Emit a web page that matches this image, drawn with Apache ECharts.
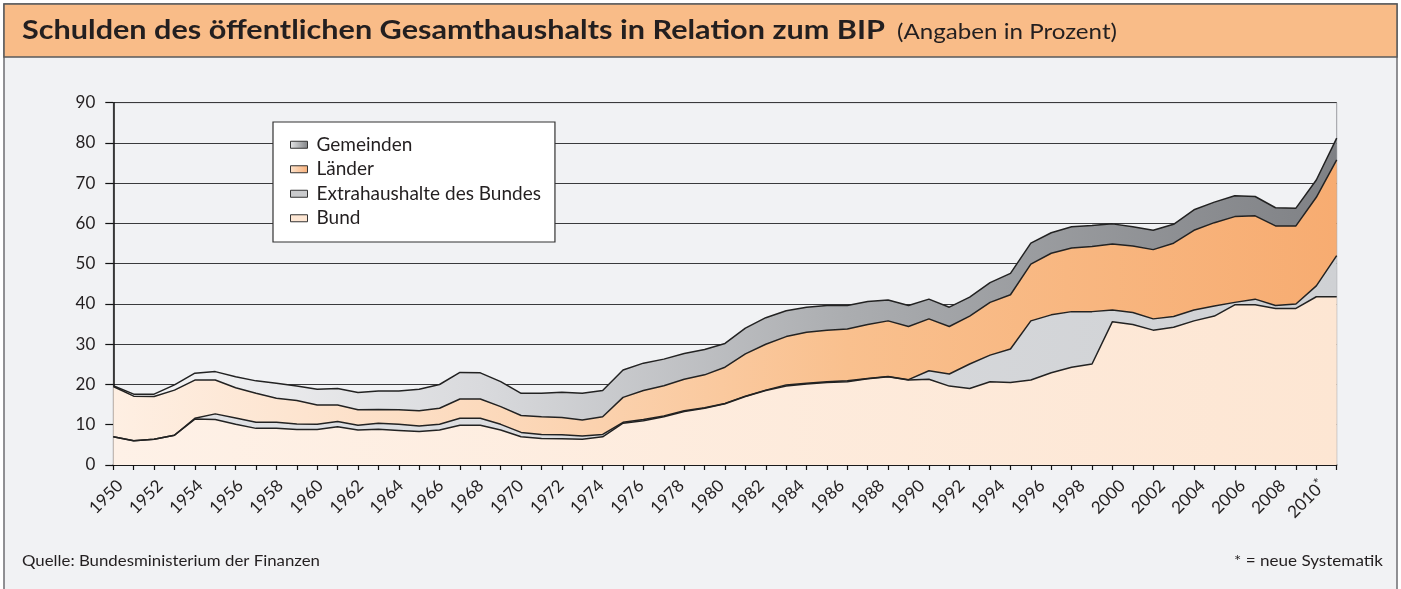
<!DOCTYPE html>
<html>
<head>
<meta charset="utf-8">
<title>Schulden des öffentlichen Gesamthaushalts in Relation zum BIP</title>
<script src="https://cdn.jsdelivr.net/npm/echarts@6/dist/echarts.min.js"></script>
<style>
  html, body { margin: 0; padding: 0; background: #fff; }
  #chart { width: 1401px; height: 589px; }
</style>
</head>
<body>
<div id="chart"></div>
<script>
// Jahre (Kategorien)
var years = ['1950','1951','1952','1953','1954','1955','1956','1957','1958','1959',
  '1960','1961','1962','1963','1964','1965','1966','1967','1968','1969',
  '1970','1971','1972','1973','1974','1975','1976','1977','1978','1979',
  '1980','1981','1982','1983','1984','1985','1986','1987','1988','1989',
  '1990','1991','1992','1993','1994','1995','1996','1997','1998','1999',
  '2000','2001','2002','2003','2004','2005','2006','2007','2008','2009','2010'];

// Beschriftung der x-Achse (jedes zweite Jahr)
var yearLabels = ['1950','1952','1954','1956','1958','1960','1962','1964','1966','1968',
  '1970','1972','1974','1976','1978','1980','1982','1984','1986','1988',
  '1990','1992','1994','1996','1998','2000','2002','2004','2006','2008','2010*'];

// Anteile in % des BIP
var bund = [7.0, 6.0, 6.4, 7.4, 11.4, 11.3, 10.1, 9.1, 9.1, 8.8,
  8.8, 9.5, 8.7, 8.9, 8.6, 8.3, 8.7, 9.9, 9.9, 8.7,
  7.0, 6.6, 6.5, 6.4, 7.0, 10.4, 11.0, 12.0, 13.3, 14.1,
  15.2, 17.0, 18.5, 19.6, 20.1, 20.5, 20.7, 21.4, 21.9, 21.1,
  21.3, 19.6, 19.0, 20.7, 20.5, 21.1, 22.9, 24.3, 25.1, 35.6,
  34.9, 33.5, 34.2, 35.8, 37.0, 39.8, 39.8, 38.9, 38.9, 41.8, 41.8];

var extra = [0, 0, 0, 0, 0.2, 1.4, 1.6, 1.5, 1.5, 1.4,
  1.3, 1.3, 1.2, 1.5, 1.5, 1.4, 1.4, 1.7, 1.7, 1.4,
  1.1, 1.0, 1.0, 0.8, 0.6, 0.2, 0.3, 0.2, 0.2, 0.1,
  0.1, 0.1, 0.1, 0.3, 0.2, 0.2, 0.2, 0.1, 0.1, 0.1,
  2.1, 3.0, 6.1, 6.6, 8.3, 14.7, 14.4, 13.8, 13.0, 2.9,
  3.0, 2.8, 2.7, 2.7, 2.5, 0.6, 1.4, 0.7, 1.1, 2.7, 10.2];

var laender = [12.5, 11.1, 10.6, 11.2, 9.5, 8.4, 7.5, 7.2, 6.0, 5.8,
  4.8, 4.1, 3.8, 3.4, 3.6, 3.8, 4.0, 4.8, 4.8, 4.4,
  4.2, 4.4, 4.3, 4.0, 4.4, 6.2, 7.2, 7.5, 7.8, 8.2,
  9.0, 10.5, 11.4, 12.0, 12.7, 12.8, 12.9, 13.4, 13.8, 13.2,
  12.9, 11.8, 11.9, 13.1, 13.5, 14.1, 15.3, 15.8, 16.2, 16.4,
  16.5, 17.2, 18.2, 19.8, 20.7, 21.3, 20.7, 19.8, 19.4, 22.0, 23.8];

var gemeinden = [0.2, 0.5, 0.6, 1.3, 1.7, 2.1, 2.7, 3.1, 3.7, 3.6,
  3.9, 4.1, 4.3, 4.6, 4.7, 5.3, 5.9, 6.6, 6.5, 6.2,
  5.5, 5.8, 6.3, 6.6, 6.5, 6.8, 6.8, 6.6, 6.4, 6.3,
  5.9, 6.4, 6.6, 6.4, 6.2, 6.1, 5.8, 5.7, 5.2, 5.2,
  4.9, 4.8, 4.7, 4.9, 5.3, 5.2, 5.1, 5.3, 5.2, 5.0,
  4.8, 4.8, 4.7, 5.1, 5.1, 5.2, 4.8, 4.5, 4.4, 4.3, 5.4];

var FONT = 'Lato, "Open Sans", sans-serif';

// horizontale Streckung, damit die Schrift die Breite des Originals erreicht
var measureCtx = document.createElement('canvas').getContext('2d');
function fitScale(text, weight, size, target) {
  measureCtx.font = weight + ' ' + size + 'px ' + FONT;
  return target / measureCtx.measureText(text).width;
}

function hGrad(stops) {
  return new echarts.graphic.LinearGradient(0, 0, 1, 0, stops.map(function (s) {
    return { offset: s[0], color: s[1] };
  }));
}

var colBund = hGrad([[0, '#FEF1E7'], [1, '#FDE6D3']]);
var colExtra = hGrad([[0, '#E2E3E6'], [1, '#CFD1D4']]);
var colLaender = hGrad([[0, '#FEEFE3'], [0.3, '#FCDABD'], [0.6, '#F9C08E'], [1, '#F7AC71']]);
var colGemeinden = hGrad([[0, '#F7F7F8'], [0.3, '#D9DADD'], [0.6, '#ABADB0'], [1, '#7F8185']]);

function areaSeries(name, data, color) {
  return {
    name: name,
    type: 'line',
    stack: 'gesamt',
    data: data,
    symbol: 'none',
    lineStyle: { color: '#222', width: 1.5 },
    itemStyle: { color: color },
    areaStyle: { color: color, opacity: 1 },
    emphasis: { disabled: true }
  };
}

function label(text, x, y, size, weight, width, align) {
  var s = fitScale(text, weight, size, width);
  return {
    type: 'text', z: 10, silent: true, x: x, y: y, scaleX: s, scaleY: 1,
    style: { text: text, fontFamily: FONT, fontSize: size, fontWeight: weight,
      fill: '#231f20', align: align || 'left', verticalAlign: 'middle' }
  };
}

var titleMain = 'Schulden des öffentlichen Gesamthaushalts in Relation zum BIP';
var titleSub = '(Angaben in Prozent)';
var source = 'Quelle: Bundesministerium der Finanzen';
var note = '* = neue Systematik';

var chart = echarts.init(document.getElementById('chart'));

var option = {
  backgroundColor: '#fff',
  animation: false,
  graphic: [
    { type: 'rect', z: -10, silent: true,
      shape: { x: 4, y: 4, width: 1393, height: 600 },
      style: { fill: '#F1F2F4', stroke: '#6d6e71', lineWidth: 1.5 } },
    { type: 'rect', z: -9, silent: true,
      shape: { x: 4, y: 4, width: 1393, height: 53 },
      style: { fill: '#F9BC88', stroke: '#58595b', lineWidth: 1.5 } },
    label(titleMain, 22, 30, 27, 'bold', 863),
    label(titleSub, 897, 32, 21, 'normal', 220),
    label(source, 22, 561, 15, 'normal', 298),
    label(note, 1383, 561, 15, 'normal', 149, 'right')
  ],
  legend: {
    orient: 'vertical',
    left: 273,
    top: 122,
    backgroundColor: '#fff',
    borderColor: '#333',
    borderWidth: 1.2,
    padding: [12, 14, 13, 17],
    itemWidth: 17,
    itemHeight: 7,
    itemGap: 3,
    icon: 'rect',
    itemStyle: { borderColor: '#333', borderWidth: 1 },
    textStyle: { fontFamily: FONT, fontSize: 19, color: '#231f20', lineHeight: 21.5, padding: [0, 0, 0, 4] },
    data: [
      { name: 'Gemeinden', itemStyle: { color: hGrad([[0, '#E6E7E8'], [1, '#808285']]) } },
      { name: 'Länder', itemStyle: { color: hGrad([[0, '#FDE3CC'], [1, '#F8B07A']]) } },
      { name: 'Extrahaushalte des Bundes', itemStyle: { color: '#C9CACC' } },
      { name: 'Bund', itemStyle: { color: '#FDE6D3' } }
    ]
  },
  grid: [
    {
      left: 113.3,
      right: 64.3,
      top: 102.7,
      bottom: 124,
      containLabel: false,
      show: true,
      backgroundColor: 'transparent',
      borderColor: '#9a9ca0',
      borderWidth: 1
    },
    {
      // nur für die Jahresbeschriftung (im Original etwas enger gesetzt)
      left: 120,
      width: 1202.7,
      top: 102.7,
      bottom: 124,
      containLabel: false,
      show: false
    }
  ],
  xAxis: [
    {
      type: 'category',
      gridIndex: 0,
      data: years,
      boundaryGap: false,
      axisLine: { lineStyle: { color: '#111', width: 1.5 } },
      axisTick: { show: true, interval: 0, length: 5, lineStyle: { color: '#111', width: 1.2 } },
      axisLabel: { show: false },
      splitLine: { show: false }
    },
    {
      type: 'value',
      gridIndex: 1,
      position: 'bottom',
      min: 0,
      max: 30,
      interval: 1,
      axisLine: { show: false },
      axisTick: { show: false },
      splitLine: { show: false },
      axisLabel: {
        show: true,
        rotate: 45,
        margin: 18,
        fontFamily: FONT,
        fontSize: 17,
        lineHeight: 20,
        color: '#231f20',
        formatter: function (v) {
          var i = Math.round(v);
          if (Math.abs(v - i) > 1e-6 || !yearLabels[i]) return '';
          var t = yearLabels[i];
          if (t.charAt(t.length - 1) === '*') return t.slice(0, -1) + '{s|*}';
          return t;
        },
        rich: {
          s: { fontFamily: FONT, fontSize: 14, lineHeight: 12, verticalAlign: 'top', color: '#231f20' }
        }
      }
    }
  ],
  yAxis: [
    {
      type: 'value',
      gridIndex: 0,
      min: 0,
      max: 90,
      interval: 10,
      axisLine: { show: true, lineStyle: { color: '#111', width: 1.5 } },
      axisTick: { show: true, length: 8, lineStyle: { color: '#111', width: 1.2 } },
      axisLabel: { margin: 18, fontFamily: FONT, fontSize: 17, color: '#231f20' },
      splitLine: { show: true, lineStyle: { color: '#3a3a3c', width: 1.2 } }
    },
    {
      type: 'value',
      gridIndex: 1,
      min: 0,
      max: 1,
      show: false
    }
  ],
  series: [
    areaSeries('Bund', bund, colBund),
    areaSeries('Extrahaushalte des Bundes', extra, colExtra),
    areaSeries('Länder', laender, colLaender),
    areaSeries('Gemeinden', gemeinden, colGemeinden)
  ]
};

chart.setOption(option);
</script>
</body>
</html>
